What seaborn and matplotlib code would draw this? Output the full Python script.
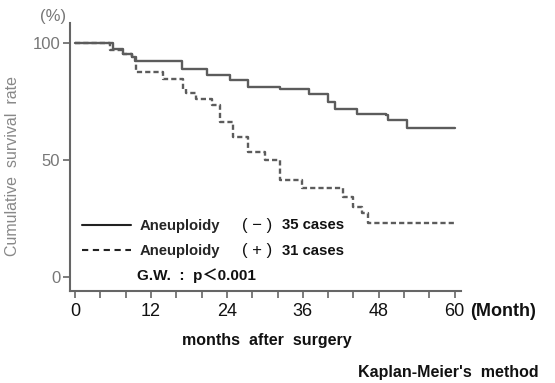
import matplotlib
matplotlib.use("Agg")
import matplotlib.pyplot as plt
from matplotlib.lines import Line2D
import pandas as pd
import seaborn as sns

# Kaplan-Meier steps: month of each step, survival (%) after it
neg_months = [0, 6.0, 7.6, 9.0, 9.5, 16.9, 20.8, 24.5, 27.4, 32.4, 36.9, 40.0,
              41.1, 44.5, 49.2, 49.5, 52.4, 60]
neg_surv = [100, 97.2, 95.2, 93.8, 92.1, 89.0, 86.4, 84.0, 81.2, 80.5, 78.0, 74.8,
            71.9, 69.8, 69.1, 66.9, 63.7, 63.7]

pos_months = [0, 5.5, 7.6, 9.0, 9.7, 13.9, 17.1, 17.6, 19.1, 21.6, 22.9, 25.0,
              27.4, 30.0, 32.4, 35.8, 42.4, 44.0, 45.3, 46.3, 60]
pos_surv = [100, 97.0, 95.2, 93.8, 87.5, 84.7, 80.4, 78.5, 76.2, 73.3, 66.0, 59.8,
            53.4, 49.9, 41.4, 37.8, 34.2, 30.0, 27.2, 23.2, 23.2]

groups = ["neg", "pos"]
group_names = ["Aneuploidy", "Aneuploidy"]
group_signs = ["( − )", "( + )"]
group_cases = ["35 cases", "31 cases"]

x_ticks = list(range(0, 61, 4))
y_ticks = [0, 50, 100]

df = pd.concat([
    pd.DataFrame({"month": neg_months, "surv": neg_surv, "group": "neg"}),
    pd.DataFrame({"month": pos_months, "surv": pos_surv, "group": "pos"}),
])

sns.set_style("white")
plt.rcParams["font.family"] = ["Liberation Sans", "DejaVu Sans"]

W, H = 555, 383
fig = plt.figure(figsize=(W / 100, H / 100), dpi=100)
ax = fig.add_axes([70 / W, 1 - 291 / H, 391 / W, 268 / H])

line_col = "#5c5c5c"
sns.lineplot(data=df, x="month", y="surv", hue="group", style="group",
             palette={"neg": line_col, "pos": line_col},
             dashes={"neg": "", "pos": (2.2, 1.3)},
             drawstyle="steps-post", estimator=None, linewidth=1.7,
             legend=False, ax=ax)

ax.set_xlim(-0.8, 61)
ax.set_ylim(-6, 108.5)

sns.despine(ax=ax)
for s in ["left", "bottom"]:
    ax.spines[s].set_color("#666666")
    ax.spines[s].set_linewidth(1.5)

ax.set_xticks(x_ticks)
ax.set_xticklabels([str(t) if t % 12 == 0 else "" for t in x_ticks],
                   fontsize=13, color="#111111")
ax.set_yticks(y_ticks)
ax.set_yticklabels([str(t) for t in y_ticks], fontsize=12, color="#777777")
ax.tick_params(axis="both", direction="out", length=5, width=1.2,
               color="#666666", left=True, bottom=True)
ax.tick_params(axis="x", pad=4)
ax.tick_params(axis="y", pad=2)

ax.set_xlabel("months  after  surgery", fontsize=11.5, fontweight="bold",
              color="#111111", va="top")
ax.xaxis.set_label_coords(0.504, -0.155)
ax.set_ylabel("Cumulative  survival  rate", fontsize=11.5, color="#888888")
ax.yaxis.set_label_coords(-0.128, 0.466)

fig.text(40 / W, 1 - 16 / H, "(%)", fontsize=12, color="#777777", va="center")
fig.text(470 / W, 1 - 311 / H, "(Month)", fontsize=13, fontweight="bold",
         color="#111111", va="center")
fig.text(539 / W, 1 - 372 / H, "Kaplan-Meier's  method", fontsize=11.5,
         fontweight="bold", color="#111111", ha="right", va="center")

handles = [Line2D([], [], color="#222222", lw=1.5, ls="-"),
           Line2D([], [], color="#222222", lw=1.5, ls=(0, (3, 2.2)))]
ax.legend(handles, group_names, loc="upper left",
          bbox_to_anchor=(82 / W, 1 - 219 / H), bbox_transform=fig.transFigure,
          frameon=False, borderpad=0, borderaxespad=0, handlelength=3.3,
          handletextpad=0.6, labelspacing=0.75,
          prop={"size": 10.7, "weight": "bold"})

row_y = [225, 251]
for i in range(len(groups)):
    fig.text(242 / W, 1 - row_y[i] / H, group_signs[i], fontsize=12,
             color="#111111", va="center")
    fig.text(282 / W, 1 - row_y[i] / H, group_cases[i], fontsize=10.7,
             fontweight="bold", color="#111111", va="center")
fig.text(137 / W, 1 - 276 / H, "G.W.  :  p＜0.001", fontsize=11,
         fontweight="bold", color="#111111", va="center",
         family=["Liberation Sans", "Noto Sans CJK JP"])

fig.savefig("out.png", dpi=100)
